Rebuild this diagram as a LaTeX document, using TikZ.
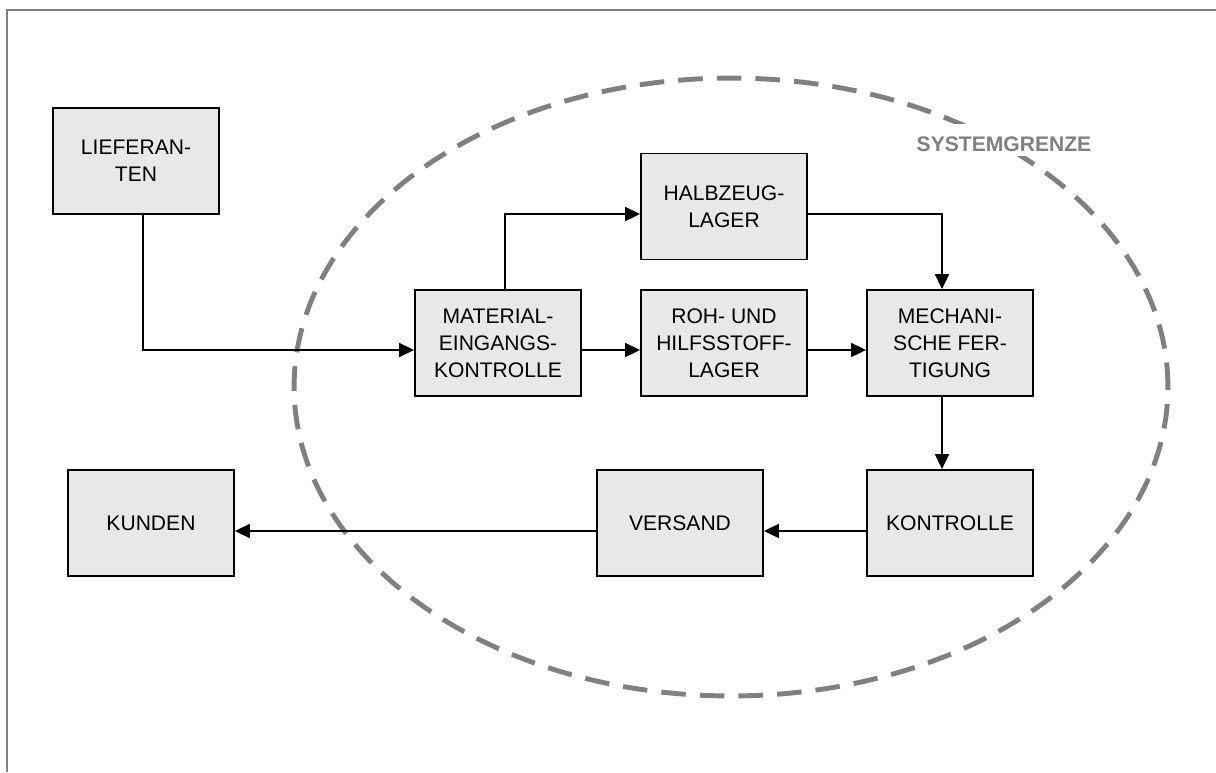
\documentclass[tikz,border=0pt]{standalone}
\usepackage{fontspec}
\setmainfont{Liberation Sans}
\usetikzlibrary{arrows.meta}

\definecolor{boxfill}{HTML}{E8E8E8}
\definecolor{grenzgrau}{HTML}{808080}

\begin{document}
\begin{tikzpicture}[x=0.02cm, y=-0.02cm,
    main/.style = {draw, line width=1.1pt, fill=boxfill, minimum width=3.32cm,
                   minimum height=2.12cm, align=center, inner sep=2pt,
                   font=\fontsize{12}{15.4}\selectfont},
    flow/.style = {line width=0.85pt, -{Triangle[length=8.5pt,width=8pt]}},
    grenze/.style = {grenzgrau, line width=2.8pt, dash pattern=on 14pt off 8pt}]
    \useasboundingbox (0,0) rectangle (1216,772);

    % frame
    \draw[grenzgrau, line width=1.1pt] (7,772) -- (7,10) -- (1216,10);

    % system boundary
    \draw[grenze] (731,387) ellipse [x radius=8.74cm, y radius=6.18cm];
    \node[grenzgrau, fill=white, inner sep=0.07cm, text height=0.47cm, text depth=0.02cm,
          anchor=base, font=\fontsize{12}{14}\selectfont\bfseries] (sg) at (1004,151) {SYSTEMGRENZE};

    \node[main] at (136,161) (lief) {LIEFERAN-\\TEN};
    \node[main] at (724,206.5) (halb) {HALBZEUG-\\LAGER};
    \node[main] at (498,343) (mat) {MATERIAL-\\EINGANGS-\\KONTROLLE};
    \node[main] at (724,343) (roh) {ROH- UND\\HILFSSTOFF-\\LAGER};
    \node[main] at (950,343) (mech) {MECHANI-\\SCHE FER-\\TIGUNG};
    \node[main] at (950,523) (kon) {KONTROLLE};
    \node[main] at (680,523) (vers) {VERSAND};
    \node[main] at (151,523) (kund) {KUNDEN};

    \draw[flow] ([xshift=0.14cm]lief.south) |- ([yshift=-0.14cm]mat.west);
    \draw[flow] ([xshift=0.14cm]mat.north) |- ([yshift=-0.15cm]halb.west);
    \draw[flow] ([yshift=-0.14cm]mat.east) -- ([yshift=-0.14cm]roh.west);
    \draw[flow] ([yshift=-0.14cm]roh.east) -- ([yshift=-0.14cm]mech.west);
    \draw[flow] ([yshift=-0.15cm]halb.east) -| ([xshift=-0.16cm]mech.north);
    \draw[flow] ([xshift=-0.16cm]mech.south) -- ([xshift=-0.16cm]kon.north);
    \draw[flow] ([yshift=-0.16cm]kon.west) -- ([yshift=-0.16cm]vers.east);
    \draw[flow] ([yshift=-0.16cm]vers.west) -- ([yshift=-0.16cm]kund.east);
\end{tikzpicture}
\end{document}
